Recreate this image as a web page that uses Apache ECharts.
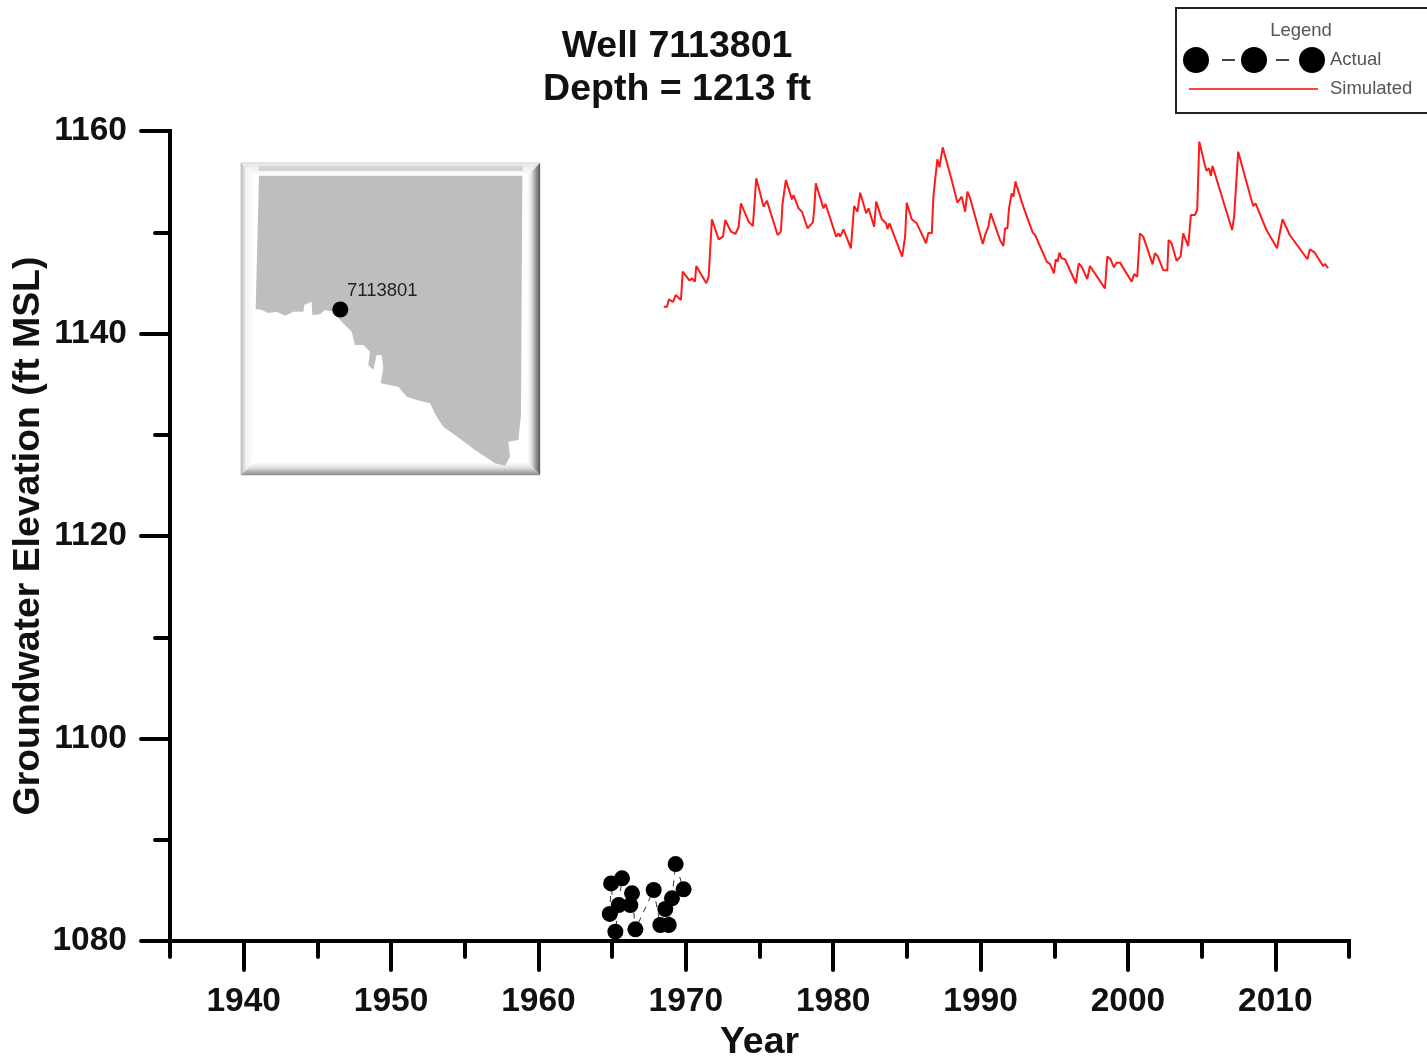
<!DOCTYPE html>
<html>
<head>
<meta charset="utf-8">
<style>html,body{margin:0;padding:0;background:#fff}#c{width:1427px;height:1060px}</style>
<script src="https://cdn.jsdelivr.net/npm/echarts@6/dist/echarts.min.js"></script>
</head>
<body>
<div id="c"></div>
<script>
const simulatedYears = [1968.50,1968.72,1968.86,1969.13,1969.31,1969.67,1969.79,1970.26,1970.40,1970.62,1970.71,1971.39,1971.55,1971.77,1972.23,1972.52,1972.68,1973.06,1973.36,1973.58,1973.74,1974.26,1974.55,1974.78,1975.28,1975.50,1976.23,1976.45,1976.56,1976.68,1976.79,1977.20,1977.31,1977.65,1977.88,1978.26,1978.62,1978.71,1978.82,1979.34,1979.48,1980.20,1980.36,1980.47,1980.70,1981.20,1981.42,1981.65,1981.83,1982.24,1982.40,1982.78,1982.92,1983.30,1983.59,1983.68,1983.82,1984.68,1984.88,1984.99,1985.33,1985.67,1986.30,1986.46,1986.69,1986.80,1986.94,1987.07,1987.21,1987.43,1988.04,1988.43,1988.72,1988.95,1989.11,1989.29,1990.15,1990.33,1990.53,1990.69,1991.32,1991.55,1991.66,1991.82,1991.93,1992.11,1992.23,1992.36,1992.90,1993.54,1993.70,1994.49,1994.71,1994.98,1995.10,1995.23,1995.35,1995.50,1995.73,1996.47,1996.66,1996.86,1997.24,1997.42,1998.44,1998.60,1998.82,1999.05,1999.23,1999.46,2000.25,2000.43,2000.63,2000.81,2001.04,2001.67,2001.83,2002.01,2002.40,2002.67,2002.76,2002.96,2003.30,2003.57,2003.75,2004.09,2004.27,2004.54,2004.70,2004.84,2005.22,2005.33,2005.51,2005.63,2005.74,2007.07,2007.21,2007.32,2007.48,2007.59,2008.38,2008.50,2008.66,2009.40,2010.12,2010.30,2010.49,2010.98,2012.18,2012.34,2012.68,2013.24,2013.38,2013.58];
const simulatedElevation = [1142.65,1142.65,1143.37,1143.11,1143.80,1143.31,1146.11,1145.22,1145.45,1145.12,1146.67,1144.96,1145.61,1151.28,1149.30,1149.57,1151.21,1150.06,1149.83,1150.49,1152.86,1151.05,1150.62,1155.33,1152.53,1153.12,1149.73,1150.06,1152.79,1152.86,1155.16,1153.25,1153.68,1152.36,1152.03,1150.39,1150.98,1152.20,1154.83,1152.36,1152.79,1149.57,1149.89,1149.57,1150.29,1148.41,1152.59,1152.03,1153.91,1151.87,1152.36,1150.55,1153.02,1151.28,1150.88,1150.32,1150.88,1147.59,1149.57,1152.92,1151.28,1150.88,1148.91,1149.96,1149.89,1153.52,1155.49,1157.20,1156.41,1158.39,1155.16,1152.92,1153.52,1152.03,1154.01,1153.35,1148.84,1149.83,1150.55,1151.87,1149.24,1148.64,1150.39,1150.39,1152.36,1153.84,1153.52,1155.00,1152.53,1149.96,1149.73,1147.10,1146.87,1145.94,1147.33,1147.10,1147.98,1147.43,1147.33,1144.96,1146.93,1146.60,1145.38,1146.67,1144.46,1147.59,1147.33,1146.54,1147.00,1147.00,1145.12,1145.88,1145.61,1149.89,1149.57,1146.83,1147.92,1147.66,1146.27,1146.21,1149.24,1148.91,1147.19,1147.59,1149.89,1148.64,1151.70,1151.70,1152.20,1158.95,1156.64,1156.08,1156.31,1155.56,1156.54,1150.22,1151.61,1151.70,1157.96,1157.86,1153.19,1152.59,1152.86,1150.22,1148.41,1149.89,1151.28,1149.73,1147.33,1148.31,1147.98,1146.67,1146.87,1146.44];
const actualYears = [1964.84,1964.93,1965.22,1965.45,1965.67,1966.24,1966.35,1966.58,1967.82,1968.27,1968.61,1968.84,1969.06,1969.31,1969.85];
const actualElevation = [1082.67,1085.69,1080.92,1083.55,1086.19,1083.55,1084.71,1081.15,1085.04,1081.58,1083.16,1081.58,1084.21,1087.60,1085.10];
const xLabelYears = [1940,1950,1960,1970,1980,1990,2000,2010];
const mapOutline = [[72,62],[862,62],[858,780],[850,855],[820,860],[825,905],[810,932],[780,925],[720,885],[680,855],[625,815],[605,785],[585,745],[545,735],[515,725],[490,695],[437,685],[445,640],[440,600],[425,600],[415,645],[400,630],[405,590],[385,570],[360,570],[350,530],[320,500],[295,470],[270,465],[255,478],[232,480],[230,440],[208,450],[205,470],[175,470],[150,482],[125,470],[100,474],[80,465],[62,462]];

const FONT = '"Liberation Sans", Arial, sans-serif';
const axisLine = {show:true, onZero:false, lineStyle:{color:'#000', width:4, cap:'square'}};
const hiddenLine = {show:false};
const tickStyle = {color:'#000', width:4, cap:'round'};
const labelStyle = {color:'#111', fontFamily:FONT, fontWeight:'bold', fontSize:33.5, formatter:v => String(v)};
const grid = {left:170, right:78, top:131, bottom:119, outerBoundsMode:'none', containLabel:false};
const xRange = {min:1935, max:2015};
const yRange = {min:1080, max:1160};

const mapPts = mapOutline.map(p => [235 + p[0]/3, 155 + p[1]/3]);
const L=241,T=163,R=540,B=475,b=13;
const graphics = [
  {type:'rect', shape:{x:L,y:T,width:R-L,height:B-T}, style:{fill:'#fff',stroke:'#c8c8c8',lineWidth:1}, z:5},
  {type:'polygon', shape:{points:[[L,T],[R,T],[R-b,T+b],[L+b,T+b]]}, style:{fill:{type:'linear',x:0,y:0,x2:0,y2:1,colorStops:[{offset:0,color:'#e4e4e4'},{offset:1,color:'#ffffff'}]}}, z:6},
  {type:'polygon', shape:{points:[[L,T],[L+b,T+b],[L+b,B-b],[L,B]]}, style:{fill:{type:'linear',x:0,y:0,x2:1,y2:0,colorStops:[{offset:0,color:'#bdbdbd'},{offset:.4,color:'#f2f2f2'},{offset:1,color:'#ffffff'}]}}, z:6},
  {type:'polygon', shape:{points:[[R,T],[R,B],[R-b,B-b],[R-b,T+b]]}, style:{fill:{type:'linear',x:0,y:0,x2:1,y2:0,colorStops:[{offset:0,color:'#ffffff'},{offset:.3,color:'#e8e8e8'},{offset:1,color:'#555555'}]}}, z:6},
  {type:'polygon', shape:{points:[[L,B],[R,B],[R-b,B-b],[L+b,B-b]]}, style:{fill:{type:'linear',x:0,y:0,x2:0,y2:1,colorStops:[{offset:0,color:'#ffffff'},{offset:.4,color:'#e6e6e6'},{offset:1,color:'#8a8a8a'}]}}, z:6},
  {type:'rect', shape:{x:259,y:166,width:264,height:5}, style:{fill:'#d4d4d4'}, z:7},
  {type:'polygon', shape:{points:mapPts}, style:{fill:'#bebebe'}, z:7},
  {type:'circle', shape:{cx:340.3,cy:309.5,r:8}, style:{fill:'#000'}, z:8},
  {type:'text', x:347, y:291, style:{text:'7113801',fill:'#222',font:'18.5px '+FONT,textAlign:'left',textVerticalAlign:'middle'}, z:8},

  {type:'rect', shape:{x:1176,y:8,width:260,height:105}, style:{fill:'#fff',stroke:'#222',lineWidth:2}, z:5},
  {type:'text', x:1301, y:31, style:{text:'Legend',fill:'#555',font:'18.5px '+FONT,textAlign:'center',textVerticalAlign:'middle'}, z:6},
  {type:'circle', shape:{cx:1196,cy:60,r:13}, style:{fill:'#000'}, z:6},
  {type:'circle', shape:{cx:1254,cy:60,r:13}, style:{fill:'#000'}, z:6},
  {type:'circle', shape:{cx:1312,cy:60,r:13}, style:{fill:'#000'}, z:6},
  {type:'line', shape:{x1:1222,y1:60,x2:1235,y2:60}, style:{stroke:'#444',lineWidth:2}, z:6},
  {type:'line', shape:{x1:1276,y1:60,x2:1289,y2:60}, style:{stroke:'#444',lineWidth:2}, z:6},
  {type:'text', x:1330, y:60, style:{text:'Actual',fill:'#555',font:'18.5px '+FONT,textAlign:'left',textVerticalAlign:'middle'}, z:6},
  {type:'line', shape:{x1:1189,y1:89,x2:1318,y2:89}, style:{stroke:'#ff4040',lineWidth:2}, z:6},
  {type:'text', x:1330, y:89, style:{text:'Simulated',fill:'#555',font:'18.5px '+FONT,textAlign:'left',textVerticalAlign:'middle'}, z:6}
];

const chart = echarts.init(document.getElementById('c'), null, {renderer:'canvas', width:1427, height:1060});
chart.setOption({
  animation:false,
  backgroundColor:'#fff',
  title:{text:'Well 7113801\nDepth = 1213 ft', left:672, top:20, textAlign:'center',
    textStyle:{color:'#111',fontFamily:FONT,fontWeight:'bold',fontSize:37.5,lineHeight:43}},
  grid:grid,
  xAxis:[
    {type:'value', ...xRange, interval:5, axisLine:axisLine, splitLine:{show:false},
     axisTick:{show:true,length:16,lineStyle:tickStyle}, axisLabel:{show:false}},
    {type:'value', position:'bottom', ...xRange, interval:5, axisLine:hiddenLine, splitLine:{show:false},
     axisTick:{show:true,length:29,lineStyle:tickStyle,customValues:xLabelYears},
     axisLabel:{...labelStyle,margin:44,customValues:xLabelYears,hideOverlap:false,showMinLabel:true,showMaxLabel:true},
     name:'Year', nameLocation:'middle', nameGap:83,
     nameTextStyle:{color:'#111',fontFamily:FONT,fontWeight:'bold',fontSize:37.5}}
  ],
  yAxis:[
    {type:'value', ...yRange, interval:10, axisLine:axisLine, splitLine:{show:false},
     axisTick:{show:true,length:15,lineStyle:tickStyle}, axisLabel:{show:false}},
    {type:'value', position:'left', ...yRange, interval:20, axisLine:hiddenLine, splitLine:{show:false},
     axisTick:{show:true,length:29,lineStyle:tickStyle},
     axisLabel:{...labelStyle,margin:43},
     name:'Groundwater Elevation (ft MSL)', nameLocation:'middle', nameGap:123, nameRotate:90, nameMoveOverlap:false,
     nameTextStyle:{color:'#111',fontFamily:FONT,fontWeight:'bold',fontSize:37.4}}
  ],
  series:[
    {name:'Actual', type:'line', xAxisIndex:0, yAxisIndex:0, clip:false, z:3,
     data:actualYears.map((y,i)=>[y,actualElevation[i]]),
     symbol:'circle', symbolSize:16, showAllSymbol:true,
     itemStyle:{color:'#000'}, lineStyle:{color:'#333',width:1,type:[6,6]}},
    {name:'Simulated', type:'line', xAxisIndex:0, yAxisIndex:0, z:4,
     data:simulatedYears.map((y,i)=>[y,simulatedElevation[i]]),
     symbol:'none', itemStyle:{color:'#ff0000'}, lineStyle:{color:'#ff1a1a',width:2}}
  ],
  graphic:graphics
});
</script>
</body>
</html>
